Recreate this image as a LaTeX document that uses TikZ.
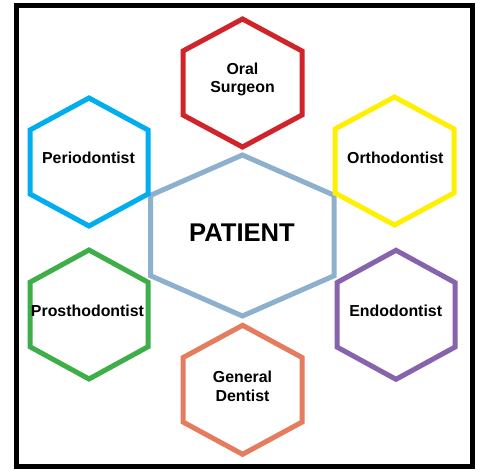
\documentclass[tikz,border=0pt]{standalone}
\usepackage{fontspec}
\setmainfont{Liberation Sans}
\definecolor{cpatient}{HTML}{8DB0CE}
\definecolor{coral}{HTML}{D1232A}
\definecolor{cperio}{HTML}{00AEEF}
\definecolor{cortho}{HTML}{FFEF00}
\definecolor{cprost}{HTML}{3EAE49}
\definecolor{cendo}{HTML}{8763AD}
\definecolor{cgen}{HTML}{E57C5E}
\tikzset{
  hexline/.style={line width=5pt, line join=miter},
  lbl/.style={font=\fontsize{15.9}{18.5}\selectfont\bfseries, align=center, inner sep=0pt},
  biglbl/.style={font=\fontsize{25.6}{30}\selectfont\bfseries, inner sep=0pt},
}
\newcommand\hexat[5]{%
  \draw[hexline,#5,shift={(#1,#2)}] (0,-#4) -- (#3,-#4/2) -- (#3,#4/2) -- (0,#4) -- (-#3,#4/2) -- (-#3,-#4/2) -- cycle;}
\begin{document}
\begin{tikzpicture}[x=1pt,y=-1pt]
\useasboundingbox (0,0) rectangle (480,472);
\fill[white] (0,0) rectangle (480,472);
\draw[line width=5pt] (16,5.3) rectangle (472.5,466.5);
% hexagons
\hexat{242.4}{235.5}{91.7}{80.5}{cpatient}
\hexat{242.5}{83}{59.5}{64}{coral}
\hexat{89}{162}{59}{64}{cperio}
\hexat{394.5}{161}{59.5}{64}{cortho}
\hexat{89}{314.5}{59}{64.5}{cprost}
\hexat{396}{314.8}{59}{64.5}{cendo}
\hexat{242.6}{389.8}{59.5}{64.5}{cgen}
% labels
\node[biglbl] (patient) at (242,232.5) {PATIENT};
\node[lbl] (oral) at (242.5,79.5) {Oral\\Surgeon};
\node[lbl] (perio) at (88.5,158.3) {Periodontist};
\node[lbl] (ortho) at (395.3,158.3) {Orthodontist};
\node[lbl] (prost) at (87.5,311.3) {Prosthodontist};
\node[lbl] (endo) at (395.7,311.3) {Endodontist};
\node[lbl] (gen) at (242.5,386.3) {General\\Dentist};
\end{tikzpicture}
\end{document}
